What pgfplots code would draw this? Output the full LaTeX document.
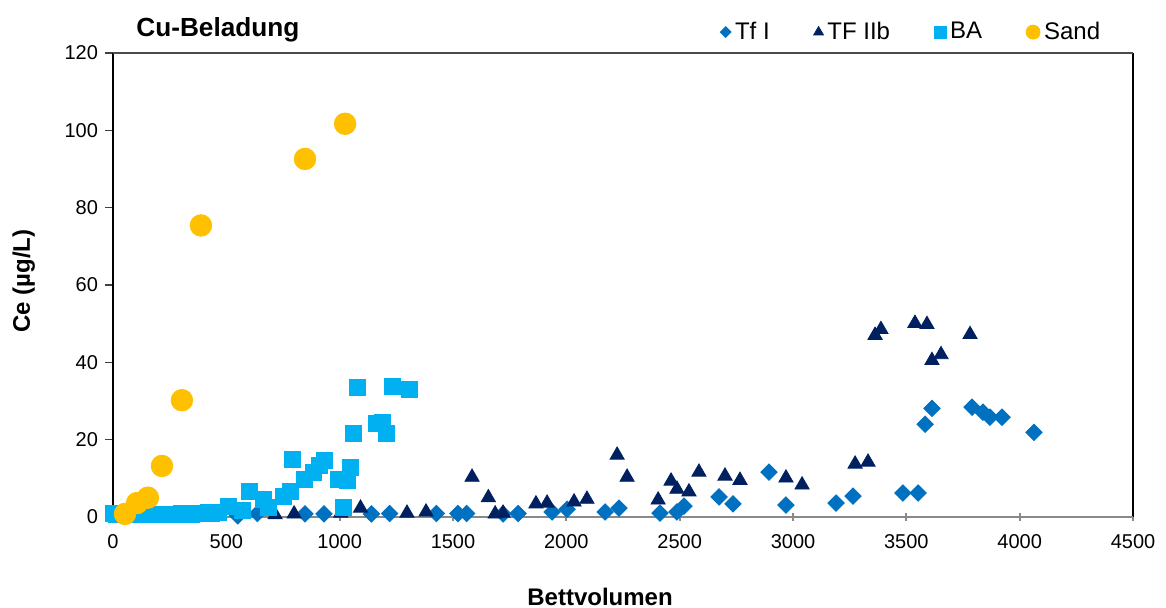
\documentclass[border=0pt]{standalone}
\usepackage{pgfplots}
\pgfplotsset{compat=1.18}
\usepackage{fontspec}
\setmainfont{Liberation Sans}
\definecolor{tfone}{HTML}{0070C0}
\definecolor{tftwo}{HTML}{002060}
\definecolor{baC}{HTML}{00B0F0}
\definecolor{sandC}{HTML}{FFC000}
\definecolor{axgray}{HTML}{898989}
\begin{document}
\begin{tikzpicture}
\path[use as bounding box] (-56.5pt,-45.5pt) rectangle (526.5pt,258.5pt);
\begin{axis}[
  at={(0,0)}, anchor=south west,
  scale only axis, width=510pt, height=232pt,
  xmin=0, xmax=4500, ymin=0, ymax=120,
  xtick={0,500,...,4500}, ytick={0,20,...,120},
  axis line style={draw=none},
  clip=false,
  /pgf/number format/assume math mode=true,
  /pgf/number format/1000 sep={},
  ticklabel style={font=\fontsize{10}{12}\selectfont},
  xticklabel style={yshift=-3pt},
  x tick style={axgray, line width=0.9pt},
  y tick style={black!75, line width=0.8pt},
  xtick align=center, ytick align=outside,
  major tick length=4pt,
  xtick pos=bottom, ytick pos=left,
  legend columns=-1,
  legend style={draw=none, fill=none, at={(0.595,1.045)}, anchor=west,
    font=\fontsize{12}{14}\selectfont, inner sep=0pt,
    /tikz/every even column/.append style={column sep=20pt}},
  legend cell align=left,
]
\addplot[only marks, mark=square*, mark size=2.9pt, mark options={rotate=45, fill=tfone, draw=tfone},
  legend image code/.code={\draw[mark=square*, mark size=1.9pt, mark options={rotate=45, fill=tfone, draw=tfone}] plot coordinates {(0.3cm,0cm)};}] coordinates {
(550,0.3) (637,0.9) (847,0.8) (931,0.8) (1140,0.8) (1220,0.9) (1427,0.9)
(1522,0.9) (1560,0.9) (1721,0.8) (1787,0.9) (1937,1.3) (2003,2.0) (2171,1.3)
(2232,2.3) (2413,1.0) (2488,1.3) (2519,2.8) (2674,5.2) (2735,3.4) (2894,11.6)
(2969,3.1) (3190,3.6) (3265,5.4) (3485,6.2) (3552,6.2) (3583,24.0) (3613,28.1)
(3790,28.4) (3838,27.1) (3869,25.8) (3922,25.8) (4063,21.9)
};
\addlegendentry{Tf I}
\addplot[only marks, mark=triangle*, mark size=4.1pt, mark options={fill=tftwo, draw=tftwo},
  legend image code/.code={\draw[mark=triangle*, mark size=2.8pt, mark options={fill=tftwo, draw=tftwo}] plot coordinates {(0.3cm,0cm)};}] coordinates {
(715,0.6) (799,0.8) (1005,1.0) (1092,2.3) (1297,1.0) (1381,1.3) (1584,10.3)
(1656,5.0) (1686,0.8) (1721,1.0) (1866,3.4) (1915,3.6) (2034,3.9) (2091,4.6)
(2224,16.0) (2268,10.3) (2405,4.4) (2462,9.3) (2488,7.2) (2541,6.5) (2585,11.6)
(2700,10.6) (2766,9.5) (2969,10.1) (3040,8.3) (3274,13.7) (3331,14.2)
(3362,47.0) (3388,48.5) (3538,50.1) (3591,49.8) (3613,40.5) (3653,42.0) (3781,47.2)
};
\addlegendentry{TF IIb}
\addplot[only marks, mark=square*, mark size=4pt, mark options={fill=baC, draw=baC},
  legend image code/.code={\draw[mark=square*, mark size=3pt, mark options={fill=baC, draw=baC}] plot coordinates {(0.3cm,0cm)};}] coordinates {
(0,1.0) (15,0.8) (30,0.7) (45,0.7) (60,0.8) (75,0.6) (90,0.7) (105,0.8)
(120,0.7) (135,0.8) (150,0.7) (165,0.8) (180,0.7) (195,0.8) (210,0.7) (225,0.8)
(240,0.8) (255,0.7) (270,0.8) (285,0.8) (300,0.9) (315,0.8) (330,0.9) (345,0.8)
(360,0.9) (375,1.0) (390,0.9) (405,1.0) (420,1.1) (435,1.0) (450,1.2) (465,1.1)
(507,2.7) (569,1.6) (600,6.5) (662,4.6) (684,2.6) (750,5.2) (781,6.5) (790,15.0)
(843,9.6) (883,11.5) (909,13.4) (931,14.7) (993,9.8) (1015,2.6) (1032,9.5)
(1046,12.7) (1059,21.6) (1077,33.6) (1164,24.3) (1190,24.5) (1204,21.7)
(1231,33.8) (1306,33.0)
};
\addlegendentry{BA}
\addplot[only marks, mark=*, mark size=5.4pt, mark options={fill=sandC, draw=sandC},
  legend image code/.code={\draw[mark=*, mark size=3.5pt, mark options={fill=sandC, draw=sandC}] plot coordinates {(0.3cm,0cm)};}] coordinates {
(53,0.8) (106,3.6) (154,5.0) (216,13.2) (304,30.2) (388,75.4) (847,92.6) (1024,101.7)
};
\addlegendentry{Sand}
\draw[black, line width=1pt] (rel axis cs:0,0) -- (rel axis cs:0,1);
\draw[black, line width=0.8pt] (rel axis cs:1,0) -- (rel axis cs:1,1);
\draw[black!70, line width=0.9pt] (rel axis cs:0,1) -- (rel axis cs:1,1);
\draw[axgray, line width=1pt] (rel axis cs:0,0) -- (rel axis cs:1,0);
\node[anchor=west, font=\bfseries\fontsize{13.1}{15}\selectfont] at (rel axis cs:0.016,1.049) {Cu-Beladung};
\node[font=\bfseries\fontsize{12}{14}\selectfont] at (rel axis cs:0.4775,-0.1724) {Bettvolumen};
\node[rotate=90, font=\bfseries\fontsize{12}{14}\selectfont] at (rel axis cs:-0.0875,0.5086) {Ce (µg/L)};
\end{axis}
\end{tikzpicture}
\end{document}
